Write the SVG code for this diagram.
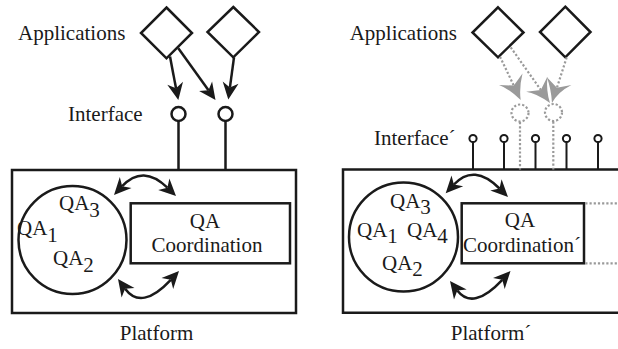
<svg xmlns="http://www.w3.org/2000/svg" width="618" height="349" viewBox="0 0 618 349">
  <style>
    text { font-family: 'Liberation Serif', 'DejaVu Serif', serif; font-size: 21px; fill: #1a1a1a; }
    .mid { text-anchor: middle; }
    .ln { fill: none; stroke: #1a1a1a; stroke-width: 2.5; }
    .thin { fill: none; stroke: #1a1a1a; stroke-width: 2; }
    .gray { fill: none; stroke: #9a9a9a; stroke-width: 2.2; stroke-dasharray: 2.2 2; }
    .pin { fill: #ffffff; stroke: #1a1a1a; stroke-width: 2; }
    .head { fill: #1a1a1a; stroke: none; }
    .ghead { fill: #9a9a9a; stroke: none; }
  </style>

  <!-- ===== Left: Platform ===== -->
  <text x="18" y="40">Applications</text>
  <text x="68" y="120.5">Interface</text>
  <text class="mid" x="156.5" y="340">Platform</text>

  <g id="app-l1"><polygon class="ln" points="166.5,7.5 192,33 166.5,58.3 141,33"/></g>
  <g id="app-l2"><polygon class="ln" points="233.3,7 259,32 233.3,57.3 207.5,32"/></g>

  <g id="iface-l1"><circle class="ln" cx="178.5" cy="114" r="7"/></g>
  <g id="iface-l2"><circle class="ln" cx="225.5" cy="114" r="7"/></g>

  <g id="platform-l"><rect class="ln" x="12" y="170" width="284" height="143"/></g>

  <g id="qa-l">
    <circle class="ln" cx="72.5" cy="240" r="54"/>
    <text x="59" y="210">QA<tspan dy="6.5">3</tspan></text>
    <text x="17" y="235">QA<tspan dy="6.5">1</tspan></text>
    <text x="53" y="265">QA<tspan dy="6.5">2</tspan></text>
  </g>

  <g id="coord-l">
    <rect class="ln" x="130.7" y="203.3" width="159.3" height="60"/>
    <text class="mid" x="205" y="228.3">QA</text>
    <text class="mid" x="207" y="251.7">Coordination</text>
  </g>

  <g id="links-l">
    <!-- application to interface -->
    <path class="ln" d="M170,56.5 L176,88.2"/>
    <polygon class="head" points="178.3,100 167.3,84.8 176,88.2 183,81.8"/>
    <path class="ln" d="M178.3,48.3 L208.5,90.3"/>
    <polygon class="head" points="215.5,100 199.1,90.9 208.5,90.3 212.1,81.5"/>
    <path class="ln" d="M234,57.3 L229.9,87.6"/>
    <polygon class="head" points="228.3,99.5 222.7,81.6 229.9,87.6 238.5,83.7"/>
    <!-- interface to platform -->
    <path class="ln" d="M178.5,121 V170 M225.5,121 V170"/>
    <!-- QA set and coordination -->
    <path class="ln" d="M122.2,186.2 Q143,164 167.4,187.7"/>
    <polygon class="head" points="114,195 119.8,177.1 122.2,186.2 131.5,188.1"/>
    <polygon class="head" points="176,196 158.2,189.9 167.4,187.7 169.4,178.4"/>
    <path class="ln" d="M125.1,288.7 Q141.5,311 170.8,279.8"/>
    <polygon class="head" points="118,279 134.5,288 125.1,288.7 121.6,297.4"/>
    <polygon class="head" points="179,271 173.2,288.9 170.8,279.8 161.5,277.9"/>
  </g>

  <!-- ===== Right: Platform´ ===== -->
  <text x="349.7" y="39.5">Applications</text>
  <text x="374" y="145">Interface´</text>
  <text class="mid" x="491" y="340">Platform´</text>

  <g id="app-r1"><polygon class="ln" points="498,7.3 523.5,32.5 498,57.3 472.5,32.5"/></g>
  <g id="app-r2"><polygon class="ln" points="565.3,6.7 590.5,32 565.3,57.3 540,32"/></g>

  <g id="iface-r-old1"><circle class="gray" cx="520" cy="113" r="8.5"/></g>
  <g id="iface-r-old2"><circle class="gray" cx="553.5" cy="112.5" r="8.5"/></g>

  <g id="pins-r">
    <path class="thin" d="M473,142 V169.5 M504,142 V169.5 M535.5,142 V169.5 M566.5,142 V169.5 M598,142 V169.5"/>
    <circle class="pin" cx="473" cy="138.5" r="3.6"/>
    <circle class="pin" cx="504" cy="138.5" r="3.6"/>
    <circle class="pin" cx="535.5" cy="138.5" r="3.6"/>
    <circle class="pin" cx="566.5" cy="138.5" r="3.6"/>
    <circle class="pin" cx="598" cy="138.5" r="3.6"/>
  </g>

  <g id="platform-r"><path class="ln" d="M620,169.5 H343 V312.7 H620"/></g>

  <g id="qa-r">
    <circle class="ln" cx="403.5" cy="237" r="54.5"/>
    <text x="390" y="208">QA<tspan dy="6">3</tspan></text>
    <text x="357" y="237">QA<tspan dy="6">1</tspan></text>
    <text x="407" y="237">QA<tspan dy="6">4</tspan></text>
    <text x="382" y="270">QA<tspan dy="6">2</tspan></text>
  </g>

  <g id="coord-r">
    <rect class="ln" x="461.7" y="203.3" width="122.3" height="60"/>
    <text class="mid" x="520" y="226.7">QA</text>
    <text class="mid" x="522" y="251.7">Coordination´</text>
  </g>

  <g id="links-r">
    <!-- former application bindings (dotted) -->
    <path class="gray" d="M500,56.7 L513.8,85.6"/>
    <path class="ghead" d="M520.7,100 Q508,88 499,84.9 L513.8,85.6 L522.5,73.6 Q519,88 520.7,100 Z"/>
    <path class="gray" d="M510.7,47.3 L540.8,89.9"/>
    <path class="ghead" d="M550,103 Q536,93 526.1,91.7 L540.8,89.9 L547.4,76.7 Q546,91 550,103 Z"/>
    <path class="gray" d="M566.7,57.3 L556.9,87.8"/>
    <path class="ghead" d="M552,103 Q551,88 546.7,77.1 L556.9,87.8 L571.4,85.1 Q558,92 552,103 Z"/>
    <path class="gray" d="M520,122 V169.5 M553.3,121.5 V169.5"/>
    <path class="gray" d="M585.3,203.3 H618 M585.3,263.3 H618"/>
    <!-- QA set and coordination -->
    <path class="ln" d="M453.9,184.5 Q474,163 499.5,188.5"/>
    <polygon class="head" points="445.7,193.3 451.5,175.4 453.9,184.5 463.2,186.3"/>
    <polygon class="head" points="508,197 490.3,190.6 499.5,188.5 501.6,179.3"/>
    <path class="ln" d="M457.3,290.5 Q473,311 502.3,279.8"/>
    <polygon class="head" points="450,281 466.7,289.6 457.3,290.5 454,299.4"/>
    <polygon class="head" points="510.5,271 504.7,288.9 502.3,279.8 493,277.9"/>
  </g>
</svg>
